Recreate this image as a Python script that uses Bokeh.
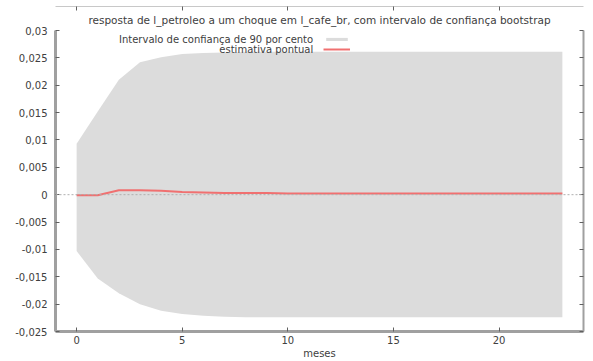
from bokeh.plotting import figure
from bokeh.models import (LinearAxis, FixedTicker, Span, Legend, LegendItem, Range1d, Title, Label)
from bokeh.embed import file_html
from bokeh.resources import INLINE

# ---- data ----
meses = list(range(24))
ic_sup = [0.0093, 0.0152, 0.0210, 0.0242, 0.0251, 0.0257, 0.0259, 0.0260, 0.0261, 0.0261,
          0.0261, 0.0261, 0.0261, 0.0261, 0.0261, 0.0261, 0.0261, 0.0261, 0.0261, 0.0261,
          0.0261, 0.0261, 0.0261, 0.0261]
ic_inf = [-0.0103, -0.0153, -0.0180, -0.0200, -0.0212, -0.0218, -0.0221, -0.0223, -0.0224, -0.0224,
          -0.0224, -0.0224, -0.0224, -0.0224, -0.0224, -0.0224, -0.0224, -0.0224, -0.0224, -0.0224,
          -0.0224, -0.0224, -0.0224, -0.0224]
estimativa = [-0.0001, -0.0001, 0.0008, 0.0008, 0.0007, 0.0005, 0.0004, 0.0003, 0.0003, 0.0003,
              0.0002, 0.0002, 0.0002, 0.0002, 0.0002, 0.0002, 0.0002, 0.0002, 0.0002, 0.0002,
              0.0002, 0.0002, 0.0002, 0.0002]
x_ticks = [0, 5, 10, 15, 20]
y_ticks = [-0.025, -0.02, -0.015, -0.01, -0.005, 0.0, 0.005, 0.01, 0.015, 0.02, 0.025, 0.03]
y_labels = ["-0,025", "-0,02", "-0,015", "-0,01", "-0,005", "0", "0,005", "0,01", "0,015", "0,02", "0,025", "0,03"]
titulo = "resposta de l_petroleo a um choque em l_cafe_br, com intervalo de confiança bootstrap"
rotulo_x = "meses"
leg_ic = "Intervalo de confiança de 90 por cento"
leg_est = "estimativa pontual"

FONT = "DejaVu Sans"
TXT = "#404040"
FS = "10px"

p = figure(width=593, height=361, output_backend="svg", toolbar_location=None,
           x_range=Range1d(-1, 24), y_range=Range1d(-0.025, 0.03),
           min_border_left=55, min_border_right=10, min_border_top=30, min_border_bottom=28,
           x_axis_location=None, y_axis_location=None)
p.background_fill_color = "white"
p.border_fill_color = "white"
p.outline_line_color = None
p.xgrid.visible = False
p.ygrid.visible = False

t = Title(text=titulo, align="center", text_font=FONT, text_font_size="10.5px",
          text_color=TXT, text_font_style="normal", standoff=10, offset=0)
p.add_layout(t, "above")

band = p.varea(x=meses, y1=ic_inf, y2=ic_sup, fill_color="#dcdcdc")
line = p.line(x=meses, y=estimativa, line_color="#f07070", line_width=2)

zero = Span(location=0, dimension="width", line_color="#b0b0b0", line_dash="2 2", line_width=1)
p.add_layout(zero)

def style(ax, labels=True):
    ax.major_tick_in = 4
    ax.major_tick_out = 0
    ax.minor_tick_line_color = None
    ax.major_tick_line_color = "#606060"
    ax.major_label_text_font = FONT
    ax.major_label_text_font_size = FS if labels else "0px"
    ax.major_label_text_color = TXT
    ax.axis_label_text_font = FONT
    ax.axis_label_text_font_size = FS
    ax.axis_label_text_color = TXT
    ax.axis_label_text_font_style = "normal"

xb = LinearAxis(ticker=FixedTicker(ticks=x_ticks), axis_label=rotulo_x)
style(xb)
xb.axis_line_color = "#a0a0a0"
xb.axis_line_width = 3
xb.major_label_standoff = 4
xb.axis_label_standoff = 1
p.add_layout(xb, "below")

yl = LinearAxis(ticker=FixedTicker(ticks=y_ticks),
                major_label_overrides={v: s for v, s in zip(y_ticks, y_labels)})
style(yl)
yl.axis_line_color = "#a0a0a0"
yl.axis_line_width = 3
yl.major_label_standoff = 8
p.add_layout(yl, "left")

xt = LinearAxis(ticker=FixedTicker(ticks=x_ticks), major_label_overrides={v: "" for v in x_ticks})
style(xt, labels=False)
xt.axis_line_color = "#c8c8c8"
xt.axis_line_width = 1
xt.major_label_standoff = 0
p.add_layout(xt, "above")

yr = LinearAxis(ticker=FixedTicker(ticks=y_ticks), major_label_overrides={v: "" for v in y_ticks})
style(yr, labels=False)
yr.axis_line_color = "#a0a0a0"
yr.axis_line_width = 2
yr.major_label_standoff = 0
p.add_layout(yr, "right")

# legend text (right aligned) and swatches
lab1 = Label(x=11.2, y=0.02837, text=leg_ic, text_align="right", text_baseline="middle",
             text_font=FONT, text_font_size=FS, text_color=TXT)
lab2 = Label(x=11.2, y=0.02655, text=leg_est, text_align="right", text_baseline="middle",
             text_font=FONT, text_font_size=FS, text_color=TXT)
p.add_layout(lab1)
p.add_layout(lab2)

leg = Legend(items=[LegendItem(label=" ", renderers=[band]), LegendItem(label=" ", renderers=[line])],
             location=(268, 280), padding=0, margin=0, spacing=6, glyph_width=27, glyph_height=4,
             label_standoff=0, label_width=0, label_height=0, label_text_font_size="0px",
             background_fill_alpha=0, border_line_color=None)
p.add_layout(leg)

open("out.html", "w").write(file_html(p, INLINE))
